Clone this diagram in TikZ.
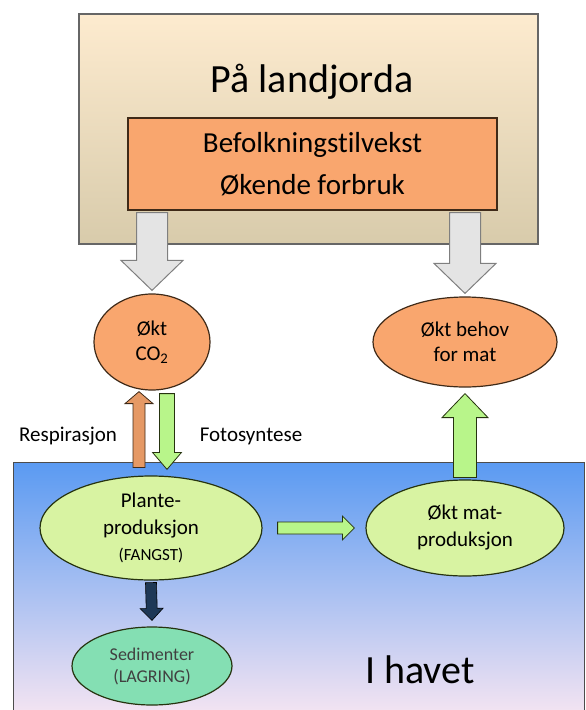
\documentclass[tikz,border=0pt]{standalone}
\usepackage{fontspec}
\setmainfont{Carlito}[Ligatures=NoCommon]
\usetikzlibrary{calc}
\usetikzlibrary{shapes.geometric}

\definecolor{beigelys}{HTML}{FDEBCF}
\definecolor{beigemork}{HTML}{D8CBAB}
\definecolor{oransje}{HTML}{F9A66E}
\definecolor{oransjekant}{HTML}{3F2A18}
\definecolor{lysgronn}{HTML}{D8F3A2}
\definecolor{gronnkant}{HTML}{26330F}
\definecolor{mintgronn}{HTML}{84DFB3}
\definecolor{havtopp}{HTML}{5A9AF2}
\definecolor{havbunn}{HTML}{F4E4F2}
\definecolor{gra}{HTML}{E4E4E4}
\definecolor{grakant}{HTML}{7F7F7F}
\definecolor{mork}{HTML}{1E3856}

\tikzset{
    landboks/.style = {draw=black!60, line width=1.2pt, top color=beigelys, bottom color=beigemork},
    havboks/.style = {draw=black!70, line width=1pt, top color=havtopp, bottom color=havbunn},
    vekstboks/.style = {rectangle, draw=oransjekant, line width=1.2pt, fill=oransje, minimum width=369pt, minimum height=92pt, inner sep=0pt, align=center, font=\fontsize{29}{42}\selectfont},
    nodeo/.style = {ellipse, draw=oransjekant, line width=1.2pt, fill=oransje, inner sep=0pt, align=center, font=\fontsize{21}{25}\selectfont},
    nodeg/.style = {ellipse, draw=gronnkant, line width=1.2pt, fill=lysgronn, inner sep=0pt, align=center, font=\fontsize{21}{27}\selectfont},
    nodesed/.style = {ellipse, draw=gronnkant, line width=1.2pt, fill=mintgronn, inner sep=0pt, align=center, font=\fontsize{18}{22}\selectfont, text=black!75},
    tittel/.style = {font=\fontsize{40}{48}\selectfont},
    etikett/.style = {font=\fontsize{21}{25}\selectfont},
    pilgra/.style = {draw=grakant, line width=1pt, fill=gra},
    pilo/.style = {draw=oransjekant, line width=0.8pt, fill=oransje!92!black},
    pilg/.style = {draw=gronnkant, line width=0.8pt, fill=lysgronn!85!green},
    pilm/.style = {draw=black, line width=0.6pt, fill=mork}
}

% blokkpil: stil, fra, til, halv skaftbredde, halv hodebredde, hodelengde
\newcommand{\blokkpil}[6]{%
  \coordinate (hode) at ($(#3)!#6!(#2)$);
  \draw[#1] ($(#2)!#4!-90:(#3)$) -- ($(hode)!#4!-90:(#3)$) -- ($(hode)!#5!-90:(#3)$)
    -- (#3) -- ($(hode)!#5!90:(#3)$) -- ($(hode)!#4!90:(#3)$) -- ($(#2)!#4!90:(#3)$) -- cycle;
}

\begin{document}
\begin{tikzpicture}[x=1pt,y=-1pt]
\useasboundingbox (0,0) rectangle (586,710);
\clip (0,0) rectangle (586,710);

% bakgrunn
\draw[havboks] (13,462) rectangle (584,714);
\draw[landboks] (79,14) rectangle (538,244);

\node[tittel] at (312, 82) (landtittel) {På landjorda};
\node[vekstboks] at (312.5, 164) (vekst) {Befolkningstilvekst\\Økende forbruk};
\node[tittel] at (420, 670) (havtittel) {I havet};

\node[nodeo, minimum width=116pt, minimum height=96pt] at (152, 342) (co2) {Økt\\CO\textsubscript{2}};
\node[nodeo, minimum width=184pt, minimum height=90pt] at (465, 342) (behov) {Økt behov\\for mat};
\node[nodeg, minimum width=222pt, minimum height=104pt] at (151, 528) (plante) {Plante-\\produksjon\\[-1pt]{\fontsize{17}{20}\selectfont (FANGST)}};
\node[nodeg, minimum width=198pt, minimum height=96pt] at (465, 528) (mat) {Økt mat-\\produksjon};
\node[nodesed, minimum width=160pt, minimum height=78pt] at (152, 666) (sediment) {Sedimenter\\(LAGRING)};

\node[etikett] at (68, 436) (resp) {Respirasjon};
\node[etikett] at (251, 436) (foto) {Fotosyntese};

\coordinate (g1a) at ($(vekst.south -| co2.north)+(0,2)$);
\coordinate (g1b) at ($(co2.north)+(0,-3)$);
\coordinate (g2a) at ($(vekst.south -| behov.north)+(0,2)$);
\coordinate (g2b) at ($(behov.north)+(0,-3)$);
\coordinate (ro1) at ($(plante.north)+(-12,-8)$);
\coordinate (ro2) at ($(co2.south)+(-13,1)$);
\coordinate (fo1) at ($(co2.south)+(15,3)$);
\coordinate (fo2) at ($(plante.north)+(16,-6)$);
\coordinate (ma1) at ($(plante.east)+(15,0)$);
\coordinate (ma2) at ($(mat.west)+(-11,0)$);
\coordinate (be1) at ($(mat.north)+(0,-2)$);
\coordinate (be2) at ($(behov.south)+(0,6)$);
\coordinate (se1) at ($(plante.south)+(0,2)$);
\coordinate (se2) at ($(sediment.north)+(0,-6)$);

\blokkpil{pilgra}{g1a}{g1b}{15.5pt}{31pt}{30pt}
\blokkpil{pilgra}{g2a}{g2b}{15.5pt}{31pt}{30pt}
\blokkpil{pilo}{ro1}{ro2}{6pt}{14pt}{12pt}
\blokkpil{pilg}{fo1}{fo2}{7.5pt}{14.5pt}{17pt}
\blokkpil{pilg}{ma1}{ma2}{6pt}{12pt}{12pt}
\blokkpil{pilg}{be1}{be2}{11.5pt}{23pt}{24pt}
\blokkpil{pilm}{se1}{se2}{5.5pt}{11.5pt}{12pt}
\end{tikzpicture}
\end{document}
